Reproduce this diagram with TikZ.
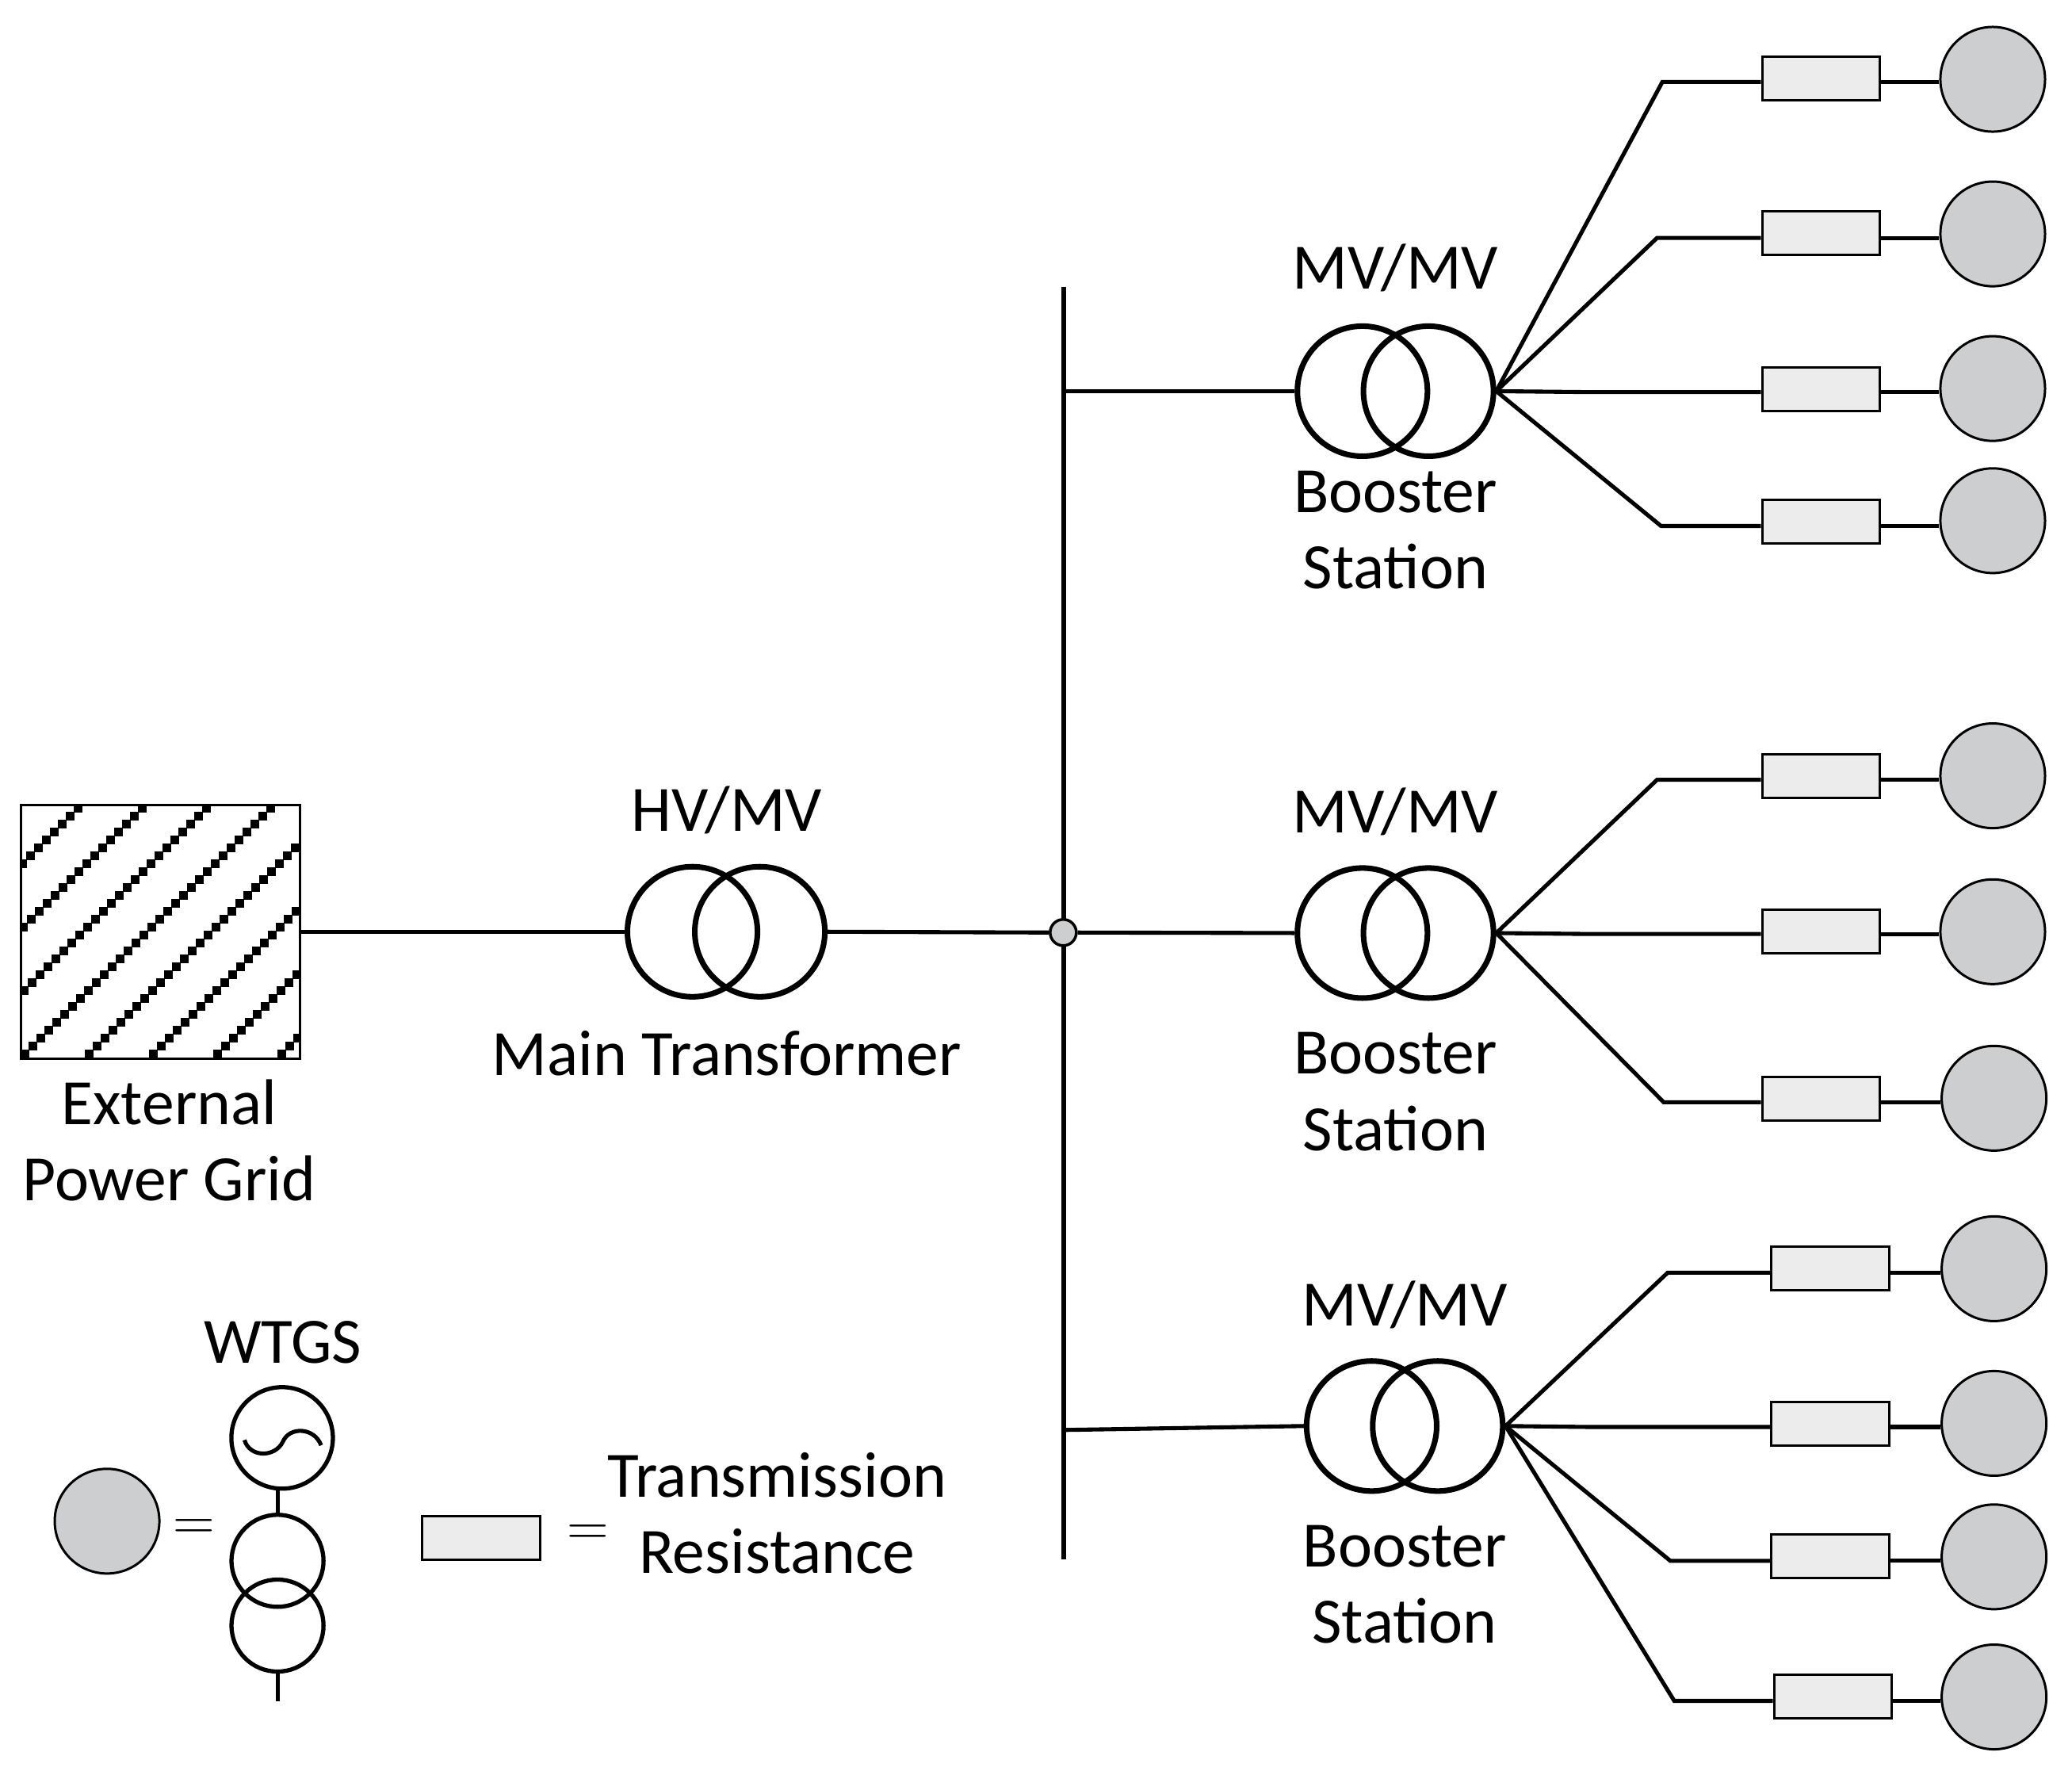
\documentclass[tikz,border=0pt]{standalone}
\usepackage{fontspec}
\setmainfont{Carlito}
\definecolor{wtgray}{HTML}{CDCED0}
\definecolor{resgray}{HTML}{ECECEC}
\tikzset{
	wire/.style={line width=1.45pt},
	coil/.style={circle, draw, line width=2pt, minimum size=1.64cm, inner sep=0},
	minicoil/.style={circle, draw, line width=1.5pt, minimum size=1.16cm, inner sep=0},
	wtg/.style={circle, draw, line width=0.85pt, fill=wtgray, minimum size=1.32cm, inner sep=0},
	res/.style={rectangle, draw, line width=0.85pt, fill=resgray, minimum width=1.484cm, minimum height=0.55cm, inner sep=0},
	lbl/.style={font=\fontsize{23.2}{27.4}\selectfont, align=center, inner sep=0},
	eqs/.style={font=\fontsize{21}{21}\selectfont, inner sep=0},
}
\begin{document}
\begin{tikzpicture}[x=0.01667cm, y=-0.01667cm]
	\useasboundingbox (0, 0) rectangle (1568, 1343);

	% external grid, stepped hatch
	\begin{scope}
		\clip (16, 609) rectangle (227, 801);
		\foreach \i in {-3, ..., 4}
			\foreach \k in {0, ..., 32}
				\fill ({15.4 + 48.6*\i + 6*\k}, {794.5 - 6*\k}) rectangle +(6.5, 6.5);
	\end{scope}
	\node[draw, line width=0.85pt, minimum width=3.517cm, minimum height=3.2cm, inner sep=0] (Grid) at (121.5, 705) {};
	\node[lbl] (GridText) at (128, 863) {External\\Power Grid};

	% main transformer
	\node[coil] (Ma) at (524, 705) {};
	\node[coil] (Mb) at (575, 705) {};
	\node[lbl] (MainV) at (550, 613) {HV/MV};
	\node[lbl] (MainText) at (550, 797) {Main Transformer};
	\draw[wire] (Grid.east) -- (Ma.west);

	% bus bar and the dot on it
	\coordinate (BusTop) at (805, 217);
	\coordinate (BusBot) at (805, 1180);
	\coordinate (Bus3) at (805, 1082);
	\draw[wire] (BusTop) -- (BusBot);
	\node[circle, draw, line width=1pt, fill=wtgray, minimum size=0.33cm, inner sep=0] (Dot) at (804.6, 705.6) {};
	\draw[wire] (Mb.east) -- (Dot.west);

	% booster stations
	\foreach \t/\x/\y/\lx/\ly/\sy in {1/1031/296/1056/203/401, 2/1031/706/1056/614/826, 3/1038/1079/1063/987/1199} {
		\node[coil] (T\t a) at (\x, \y) {};
		\node[coil] (T\t b) at (\x + 50, \y) {};
		\node[lbl] (V\t) at (\lx, \ly) {MV/MV};
		\node[lbl] (S\t) at (\lx, \sy) {Booster\\Station};
	}
	\draw[wire] (T1a.west -| BusTop) -- (T1a.west);
	\draw[wire] (Dot.east) -- (T2a.west);
	\draw[wire] (Bus3) -- (T3a.west);

	% feeders: hub, elbow, resistance, WTGS
	\foreach \hub/\ex/\ey/\rx/\ry/\wx/\wy [count=\n] in {
		1/1258/62/1378/59.6/1508/60,
		1/1254/180/1378/176.5/1508/177,
		1/1200/296.7/1378/294.4/1508/294,
		1/1257/398/1378/394.7/1508/394,
		2/1254/590/1378/587.5/1508/587,
		2/1200/706.7/1378/705/1508/705,
		2/1259/834/1378/831.5/1509/831,
		3/1262/963/1385/959.5/1509/960,
		3/1200/1079.7/1385/1077.5/1509/1077,
		3/1264/1181/1385/1177.5/1509/1178,
		3/1267/1287/1387/1283.5/1509/1284} {
		\node[res] (R\n) at (\rx, \ry) {};
		\node[wtg] (W\n) at (\wx, \wy) {};
		\coordinate (E\n) at (\ex, \ey);
		\draw[wire] (T\hub b.east) -- (E\n) -- (E\n -| R\n.west);
		\draw[wire] (E\n -| R\n.east) -- (E\n -| W\n.west);
	}

	% legend, WTGS
	\node[wtg] (KeyW) at (81, 1151) {};
	\node[eqs] (KeyEqA) at (147, 1157.5) {$=$};
	\node[circle, draw, line width=1.5pt, minimum size=1.28cm, inner sep=0] (Gen) at (213.5, 1088) {};
	\node[minicoil] (Ka) at (210, 1181) {};
	\node[minicoil] (Kb) at (210, 1230) {};
	\coordinate (KeyEnd) at (210, 1287);
	\draw[wire] (Ka.north |- Gen.south) -- (Ka.north);
	\draw[wire] (Kb.south) -- (KeyEnd);
	\draw[wire] (185, 1089.6) .. controls (189, 1103) and (208, 1103) .. (214, 1091)
		.. controls (219, 1079) and (238, 1080) .. (243, 1093.6);
	\node[lbl] (KeyText) at (214, 1016) {WTGS};

	% legend, resistance
	\node[res] (KeyR) at (364, 1163.5) {};
	\node[eqs] (KeyEqB) at (445, 1161.5) {$=$};
	\node[lbl] (KeyRText) at (588, 1145) {Transmission\\Resistance};
\end{tikzpicture}
\end{document}
